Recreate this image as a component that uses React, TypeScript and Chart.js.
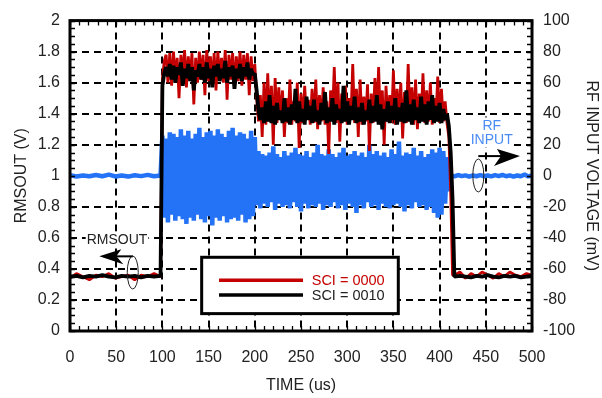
import React, { useEffect, useRef } from 'react';
import { Chart, registerables } from 'chart.js';

Chart.register(...registerables);

// ---- sampling grids (start time, step in us) ----
const PRE_T0 = 0;
const PRE_DT = 7;
const NOISE_T0 = 100;
const NOISE_DT = 2;
const POST_T0 = 416;
const POST_DT = 6;
const BLUE_POST_T0 = 412;
const BLUE_POST_DT = 4;

// ---- axis ticks ----
const X_TICKS = { min: 0, max: 500, step: 50 };
const Y_TICKS = { min: 0, max: 2, step: 0.2 };
const Y1_TICKS = { min: -100, max: 100, step: 20 };

// ---- RMSOUT, SCI = 0000 (V) ----
const redPre = [0.34, 0.37, 0.35, 0.33, 0.36, 0.35, 0.37, 0.34, 0.35, 0.36, 0.33, 0.36, 0.35, 0.37, 0.35];
const redNoise = [
  1.62, 1.74, 1.78, 1.6, 1.79, 1.58, 1.8, 1.62, 1.76, 1.5,
  1.78, 1.64, 1.81, 1.57, 1.77, 1.63, 1.79, 1.46, 1.76, 1.6,
  1.8, 1.62, 1.78, 1.52, 1.81, 1.61, 1.77, 1.59, 1.79, 1.55,
  1.8, 1.63, 1.76, 1.6, 1.81, 1.49, 1.78, 1.62, 1.79, 1.56,
  1.77, 1.61, 1.8, 1.58, 1.78, 1.62, 1.79, 1.52, 1.77, 1.61,
  1.72,
  1.5, 1.35, 1.52, 1.25, 1.6, 1.33, 1.66, 1.35, 1.58, 1.2,
  1.63, 1.34, 1.57, 1.36, 1.55, 1.25, 1.5, 1.34, 1.62, 1.33,
  1.48, 1.35, 1.6, 1.18, 1.53, 1.34, 1.58, 1.36, 1.49, 1.33,
  1.56, 1.34, 1.62, 1.3, 1.52, 1.35, 1.57, 1.33, 1.48, 1.14,
  1.55, 1.36, 1.7, 1.34, 1.6, 1.22, 1.53, 1.35, 1.58, 1.33,
  1.5, 1.36, 1.72, 1.34, 1.56, 1.25, 1.62, 1.33, 1.51, 1.35,
  1.59, 1.16, 1.53, 1.34, 1.63, 1.36, 1.7, 1.33, 1.55, 1.2,
  1.58, 1.35, 1.52, 1.34, 1.68, 1.33, 1.56, 1.36, 1.6, 1.24,
  1.54, 1.34, 1.72, 1.35, 1.57, 1.33, 1.62, 1.3, 1.53, 1.36,
  1.66, 1.34, 1.55, 1.35, 1.6, 1.33, 1.5, 1.36, 1.64, 1.34,
  1.56, 1.35, 1.48, 1.34, 1.25, 0.9, 0.36,
];
const redPost = [0.36, 0.38, 0.34, 0.37, 0.35, 0.38, 0.36, 0.34, 0.37, 0.35, 0.38, 0.36, 0.35, 0.37, 0.36];

// ---- RMSOUT, SCI = 0010 (V) ----
const blackPre = [0.35, 0.355, 0.345, 0.355, 0.35, 0.36, 0.35, 0.345, 0.355, 0.35, 0.355, 0.345, 0.355, 0.35, 0.355];
const blackNoise = [
  1.58, 1.66, 1.7, 1.64, 1.72, 1.62, 1.71, 1.6, 1.7, 1.65,
  1.73, 1.58, 1.69, 1.63, 1.72, 1.61, 1.7, 1.55, 1.68, 1.64,
  1.72, 1.62, 1.7, 1.6, 1.73, 1.63, 1.69, 1.57, 1.71, 1.64,
  1.72, 1.61, 1.69, 1.63, 1.74, 1.6, 1.7, 1.64, 1.71, 1.56,
  1.69, 1.63, 1.72, 1.61, 1.7, 1.64, 1.73, 1.62, 1.69, 1.65,
  1.66,
  1.55, 1.42, 1.36, 1.44, 1.34, 1.48, 1.35, 1.52, 1.34, 1.45,
  1.33, 1.47, 1.36, 1.42, 1.34, 1.5, 1.35, 1.44, 1.33, 1.46,
  1.36, 1.56, 1.34, 1.48, 1.35, 1.43, 1.33, 1.51, 1.36, 1.45,
  1.34, 1.49, 1.35, 1.42, 1.33, 1.47, 1.36, 1.54, 1.34, 1.44,
  1.35, 1.5, 1.33, 1.46, 1.36, 1.43, 1.34, 1.58, 1.35, 1.48,
  1.33, 1.45, 1.36, 1.51, 1.34, 1.44, 1.35, 1.47, 1.33, 1.42,
  1.36, 1.49, 1.34, 1.45, 1.35, 1.52, 1.33, 1.46, 1.3, 1.43,
  1.35, 1.48, 1.34, 1.45, 1.36, 1.5, 1.33, 1.44, 1.35, 1.47,
  1.34, 1.55, 1.35, 1.46, 1.33, 1.49, 1.36, 1.44, 1.34, 1.51,
  1.35, 1.46, 1.33, 1.48, 1.36, 1.52, 1.34, 1.45, 1.35, 1.47,
  1.34, 1.43, 1.36, 1.4, 1.32, 1.15, 0.85,
];
const blackPost = [0.35, 0.355, 0.35, 0.345, 0.355, 0.35, 0.36, 0.35, 0.345, 0.355, 0.35, 0.355, 0.345, 0.35, 0.355];

// ---- RF INPUT (mV) ----
const bluePre = [0.3, -0.4, 0.2, -0.3, 0.5, -0.3, 0.8, -0.4, 0.2, -0.5, 0.4, -0.2, 0.6, -0.3, 0.2];
const blueNoise = [
  26, -27, 24, -30, 28, -25, 27, -29, 25, -26,
  30, -28, 26, -31, 29, -27, 24, -29, 27, -25,
  31, -28, 25, -30, 28, -26, 29, -32, 26, -27,
  30, -29, 27, -26, 25, -30, 29, -28, 31, -27,
  26, -29, 28, -25, 27, -30, 24, -28, 29, -26,
  25,
  -19, 16, -21, 14, -18, 13, -20, 15, -17, 19,
  -22, 14, -18, 12, -20, 16, -19, 13, -21, 15,
  -17, 18, -20, 14, -23, 13, -18, 16, -21, 12,
  -19, 15, -20, 20, -18, 14, -22, 13, -19, 17,
  -20, 14, -17, 12, -21, 15, -19, 18, -22, 13,
  -18, 14, -20, 16, -24, 13, -19, 15, -21, 12,
  -17, 20, -20, 14, -19, 16, -22, 13, -18, 15,
  -20, 12, -21, 17, -19, 14, -18, 22, -20, 13,
  -23, 15, -19, 14, -21, 18, -17, 13, -20, 16,
  -19, 12, -22, 14, -20, 17, -24, 15, -27, 18,
  -25, 16, -18, 12, -10,
];
const bluePost = [0.3, -0.4, 0.5, -0.2, 0.3, -0.5, 0.2, -0.3, 0.4, -0.3, 0.2, -0.4, 0.4, -0.2, 0.6, -0.3, 0.3, -0.5, 0.2, -0.3, 0.8, -0.4, 0.3];

// ---- labels ----
const X_TITLE = 'TIME (us)';
const Y_TITLE = 'RMSOUT (V)';
const Y1_TITLE = 'RF INPUT VOLTAGE (mV)';
const LEGEND_LABELS = ['SCI = 0000', 'SCI = 0010'];

const RED = '#c40000';
const BLACK = '#000000';
const BLUE = '#2472f5';
const TEXT = '#222222';
const FONT = "'Liberation Sans', Arial, Helvetica, sans-serif";

function seg(t0: number, dt: number, vals: number[]) {
  return vals.map((v, i) => ({ x: t0 + i * dt, y: v }));
}

function labelWithBg(ctx: any, text: string, x: number, y: number, color: string) {
  const w = ctx.measureText(text).width;
  ctx.fillStyle = '#fff';
  ctx.fillRect(x - w / 2 - 1, y - 8, w + 2, 16);
  ctx.fillStyle = color;
  ctx.fillText(text, x, y + 1);
}

const overlayPlugin = {
  id: 'overlay',
  afterDraw(chart: any) {
    const { ctx, chartArea: a, scales } = chart;
    const sx = scales.x;
    const sy = scales.y;
    const sy1 = scales.y1;
    const X = (t: number) => sx.getPixelForValue(t);
    const Y = (v: number) => sy.getPixelForValue(v);
    ctx.save();

    // minor ticks
    ctx.strokeStyle = '#000';
    ctx.lineWidth = 1.3;
    ctx.beginPath();
    for (let t = X_TICKS.min; t <= X_TICKS.max; t += 10) {
      const px = Math.round(X(t)) + 0.5;
      ctx.moveTo(px, a.bottom);
      ctx.lineTo(px, a.bottom - 5);
      ctx.moveTo(px, a.top);
      ctx.lineTo(px, a.top + 5);
    }
    for (let k = 0; k <= 40; k++) {
      const py = Math.round(Y(k * 0.05)) + 0.5;
      ctx.moveTo(a.left, py);
      ctx.lineTo(a.left + 5, py);
    }
    for (let m = Y1_TICKS.min; m <= Y1_TICKS.max; m += 5) {
      const py = Math.round(sy1.getPixelForValue(m)) + 0.5;
      ctx.moveTo(a.right, py);
      ctx.lineTo(a.right - 5, py);
    }
    ctx.stroke();

    // frame
    ctx.lineWidth = 3;
    ctx.strokeRect(a.left, a.top, a.right - a.left, a.bottom - a.top);

    // legend box
    const lx0 = X(142.5), lx1 = X(355.3);
    const ly0 = Y(0.475), ly1 = Y(0.112);
    ctx.fillStyle = '#fff';
    ctx.fillRect(lx0, ly0, lx1 - lx0, ly1 - ly0);
    ctx.lineWidth = 3;
    ctx.strokeStyle = '#000';
    ctx.strokeRect(lx0, ly0, lx1 - lx0, ly1 - ly0);
    const rows = [
      { v: 0.327, c: RED, tc: RED, label: LEGEND_LABELS[0] },
      { v: 0.232, c: BLACK, tc: TEXT, label: LEGEND_LABELS[1] },
    ];
    ctx.font = `14.5px ${FONT}`;
    ctx.textBaseline = 'middle';
    ctx.textAlign = 'left';
    for (const r of rows) {
      ctx.strokeStyle = r.c;
      ctx.lineWidth = 3.5;
      ctx.beginPath();
      ctx.moveTo(X(161.3), Y(r.v));
      ctx.lineTo(X(252.2), Y(r.v));
      ctx.stroke();
      ctx.fillStyle = r.tc;
      ctx.fillText(r.label, X(261.6), Y(r.v) + 1);
    }

    // RMSOUT annotation
    ctx.font = `14px ${FONT}`;
    ctx.textAlign = 'center';
    labelWithBg(ctx, 'RMSOUT', X(50.9), Y(0.589), TEXT);
    const e1x = X(67.9), e1y = Y(0.377);
    ctx.strokeStyle = '#222';
    ctx.lineWidth = 1;
    ctx.beginPath();
    ctx.ellipse(e1x, e1y, 5.5, 16.5, 0, 0, Math.PI * 2);
    ctx.stroke();
    const la = Y(0.481);
    const tipL = X(31.7);
    ctx.strokeStyle = '#000';
    ctx.lineWidth = 2;
    ctx.beginPath();
    ctx.moveTo(tipL + 16, la);
    ctx.lineTo(e1x, la);
    ctx.stroke();
    ctx.fillStyle = '#000';
    ctx.beginPath();
    ctx.moveTo(tipL, la);
    ctx.lineTo(tipL + 22, la - 7);
    ctx.lineTo(tipL + 17, la);
    ctx.lineTo(tipL + 24, la + 8);
    ctx.closePath();
    ctx.fill();

    // RF INPUT annotation
    labelWithBg(ctx, 'RF', X(456.4), Y(1.325), '#4a8cf5');
    labelWithBg(ctx, 'INPUT', X(456.4), Y(1.234), '#4a8cf5');
    const e2x = X(441.9), e2y = Y(1.002);
    ctx.strokeStyle = '#222';
    ctx.lineWidth = 1;
    ctx.beginPath();
    ctx.ellipse(e2x, e2y, 5.5, 16.5, 0, 0, Math.PI * 2);
    ctx.stroke();
    const ra = Y(1.127);
    const tipR = X(487);
    ctx.strokeStyle = '#000';
    ctx.lineWidth = 2;
    ctx.beginPath();
    ctx.moveTo(e2x, ra);
    ctx.lineTo(tipR - 18, ra);
    ctx.stroke();
    ctx.fillStyle = '#000';
    ctx.beginPath();
    ctx.moveTo(tipR, ra);
    ctx.lineTo(tipR - 23, ra - 7);
    ctx.lineTo(tipR - 19, ra);
    ctx.lineTo(tipR - 26, ra + 10);
    ctx.closePath();
    ctx.fill();

    ctx.restore();
  },
};

const fmtNum = (v: any) => String(Math.round(Number(v) * 100) / 100);

export default function App() {
  const ref = useRef<HTMLCanvasElement | null>(null);

  useEffect(() => {
    if (!ref.current) return;
    Chart.defaults.font.family = FONT;
    const redData = [...seg(PRE_T0, PRE_DT, redPre), ...seg(NOISE_T0, NOISE_DT, redNoise), ...seg(POST_T0, POST_DT, redPost)];
    const blackData = [...seg(PRE_T0, PRE_DT, blackPre), ...seg(NOISE_T0, NOISE_DT, blackNoise), ...seg(POST_T0, POST_DT, blackPost)];
    const blueData = [...seg(PRE_T0, PRE_DT, bluePre), ...seg(NOISE_T0, NOISE_DT, blueNoise), ...seg(BLUE_POST_T0, BLUE_POST_DT, bluePost)];

    const gridCommon = { color: '#000', lineWidth: 2, drawTicks: false };
    const chart = new Chart(ref.current, {
      type: 'line',
      data: {
        datasets: [
          { label: 'SCI = 0010', data: blackData, yAxisID: 'y', borderColor: BLACK, borderWidth: 3.8, pointRadius: 0, tension: 0, borderJoinStyle: 'bevel', order: 0 },
          { label: 'SCI = 0000', data: redData, yAxisID: 'y', borderColor: RED, borderWidth: 2.8, pointRadius: 0, tension: 0, borderJoinStyle: 'bevel', order: 1 },
          { label: 'RF INPUT', data: blueData, yAxisID: 'y1', borderColor: BLUE, borderWidth: 4.5, pointRadius: 0, tension: 0, borderJoinStyle: 'bevel', order: 2 },
        ],
      },
      options: {
        responsive: false,
        devicePixelRatio: 1,
        animation: false,
        events: [],
        layout: { padding: { top: 15, left: 0, right: 0, bottom: 0 } },
        plugins: { legend: { display: false }, tooltip: { enabled: false } },
        scales: {
          x: {
            type: 'linear',
            min: X_TICKS.min,
            max: X_TICKS.max,
            ticks: { stepSize: X_TICKS.step, padding: 17, color: TEXT, font: { size: 16 }, maxRotation: 0, callback: fmtNum },
            grid: gridCommon,
            border: { display: false, dash: [7, 5] },
            title: { display: true, text: X_TITLE, color: TEXT, font: { size: 16 }, padding: { top: 0, bottom: 3 } },
            afterFit: (s: any) => { s.height = 67; },
          },
          y: {
            type: 'linear',
            position: 'left',
            min: Y_TICKS.min,
            max: Y_TICKS.max,
            ticks: { stepSize: Y_TICKS.step, padding: 10, color: TEXT, font: { size: 16 }, callback: fmtNum },
            grid: gridCommon,
            border: { display: false, dash: [7, 5] },
            title: { display: true, text: Y_TITLE, color: TEXT, font: { size: 16 }, padding: { top: 12, bottom: 0 } },
            afterFit: (s: any) => { s.width = 70; },
          },
          y1: {
            type: 'linear',
            position: 'right',
            min: Y1_TICKS.min,
            max: Y1_TICKS.max,
            ticks: { stepSize: Y1_TICKS.step, padding: 11, color: TEXT, font: { size: 16 }, callback: fmtNum },
            grid: { display: false, drawTicks: false },
            border: { display: false },
            title: { display: true, text: Y1_TITLE, color: TEXT, font: { size: 16 }, padding: { top: 1, bottom: 0 } },
            afterFit: (s: any) => { s.width = 70; },
          },
        },
      },
      plugins: [overlayPlugin],
    } as any);
    return () => chart.destroy();
  }, []);

  return (
    <div style={{ position: 'fixed', left: 0, top: 0, width: 602, height: 398, background: '#fff' }}>
      <canvas ref={ref} width={602} height={398} style={{ width: 602, height: 398, display: 'block' }} />
    </div>
  );
}
